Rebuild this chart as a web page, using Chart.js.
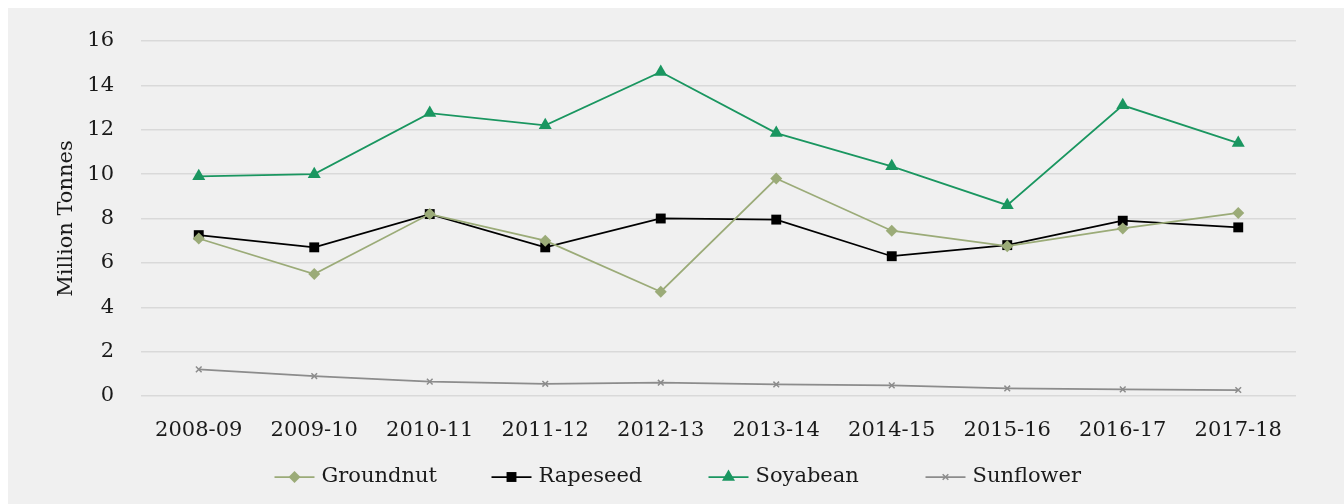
<!DOCTYPE html>
<html>
<head>
<meta charset="utf-8">
<script src="https://cdn.jsdelivr.net/npm/chart.js@4.4.1/dist/chart.umd.min.js"></script>
<style>
  html, body { margin: 0; padding: 0; background: #ffffff; }
  #wrap { position: absolute; left: 8px; top: 8px; width: 1336px; height: 496px; background: #f0f0f0; }
</style>
</head>
<body>
<div id="wrap"><canvas id="chartOil"></canvas></div>
<script>
// Jahre (Kategorien)
const years = ['2008-09', '2009-10', '2010-11', '2011-12', '2012-13', '2013-14', '2014-15', '2015-16', '2016-17', '2017-18'];

// Werte in Millionen Tonnen
const groundnut = [7.1, 5.5, 8.2, 7.0, 4.7, 9.8, 7.45, 6.75, 7.55, 8.25];
const rapeseed  = [7.25, 6.7, 8.2, 6.7, 8.0, 7.95, 6.3, 6.8, 7.9, 7.6];
const soyabean  = [9.9, 10.0, 12.75, 12.2, 14.6, 11.85, 10.35, 8.6, 13.1, 11.4];
const sunflower = [1.2, 0.9, 0.65, 0.55, 0.6, 0.52, 0.48, 0.34, 0.3, 0.27];

const yTicks = [0, 2, 4, 6, 8, 10, 12, 14, 16];

const FONT = "'DejaVu Serif', serif";

function makeSet(label, data, color, style, radius, width) {
  return {
    label: label,
    data: data,
    borderColor: color,
    backgroundColor: color,
    pointStyle: style,
    pointRadius: radius,
    pointHoverRadius: radius,
    pointBorderWidth: style === 'crossRot' ? 1.5 : 0,
    pointBorderColor: color,
    borderWidth: width,
    tension: 0,
    fill: false
  };
}

/**
 * lineLegend: Legende mit Linie + Marker wie in Excel
 */
const lineLegend = {
  id: 'lineLegend',
  afterDraw(chart) {
    const ctx = chart.ctx;
    const area = chart.chartArea;
    const slot = 217;
    const n = chart.data.datasets.length;
    const mid = (area.left + area.right) / 2;
    let x = mid - slot * n / 2 - 10;
    const y = 469;
    ctx.save();
    chart.data.datasets.forEach((ds) => {
      ctx.strokeStyle = ds.borderColor;
      ctx.lineWidth = ds.borderWidth;
      ctx.beginPath();
      ctx.moveTo(x, y);
      ctx.lineTo(x + 40, y);
      ctx.stroke();
      ctx.fillStyle = ds.backgroundColor;
      ctx.lineWidth = ds.pointBorderWidth;
      Chart.helpers.drawPoint(ctx, { pointStyle: ds.pointStyle, radius: ds.pointRadius, borderWidth: ds.pointBorderWidth }, x + 20, y);
      ctx.fillStyle = '#1a1a1a';
      ctx.font = '21px ' + FONT;
      ctx.textBaseline = 'middle';
      ctx.textAlign = 'left';
      ctx.fillText(ds.label, x + 47, y);
      x += slot;
    });
    ctx.restore();
  }
};

function initChart() {
  const ctx = document.getElementById('chartOil').getContext('2d');
  return new Chart(ctx, {
    type: 'line',
    data: {
      labels: years,
      datasets: [
        makeSet('Groundnut', groundnut, '#9bab78', 'rectRot', 6, 1.75),
        makeSet('Rapeseed', rapeseed, '#000000', 'rect', 7, 1.75),
        makeSet('Soyabean', soyabean, '#1a9660', 'triangle', 7.5, 1.75),
        makeSet('Sunflower', sunflower, '#8c8c8c', 'crossRot', 4, 1.75)
      ]
    },
    options: {
      responsive: false,
      animation: false,
      layout: { padding: { left: 46, right: 48, top: 33, bottom: 50 } },
      plugins: { legend: { display: false }, tooltip: { enabled: false } },
      scales: {
        x: {
          offset: true,
          grid: { display: false, drawTicks: false },
          border: { display: false },
          ticks: { color: '#1a1a1a', font: { family: FONT, size: 21 }, padding: 22, maxRotation: 0 },
          afterFit: (s) => { s.height = 58; }
        },
        y: {
          min: 0,
          max: 16,
          afterBuildTicks: (s) => { s.ticks = yTicks.map(v => ({ value: v })); },
          grid: { color: '#d9d9d9', lineWidth: 1.5, drawTicks: false },
          border: { display: false },
          ticks: { color: '#1a1a1a', font: { family: FONT, size: 21, lineHeight: 0.4 }, padding: 27 },
          title: { display: true, text: 'Million Tonnes', color: '#1a1a1a', font: { family: FONT, size: 21 }, padding: 0 },
          afterFit: (s) => { s.width = 87; }
        }
      }
    },
    plugins: [lineLegend]
  });
}

const cv = document.getElementById('chartOil');
cv.width = 1336;
cv.height = 496;
initChart();
</script>
</body>
</html>
